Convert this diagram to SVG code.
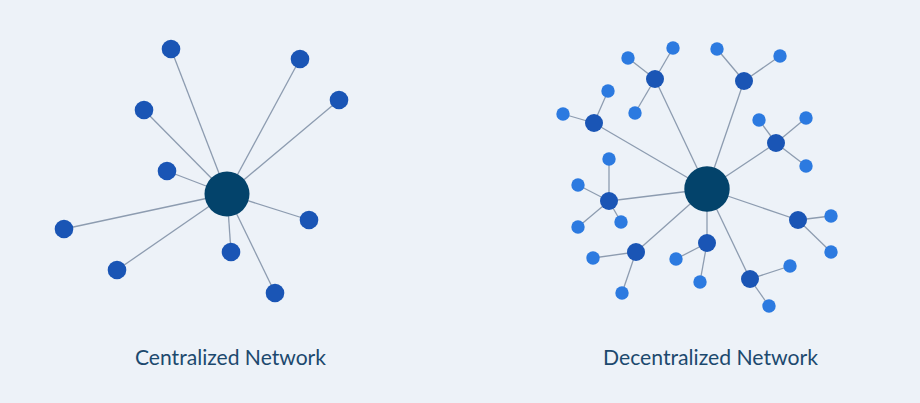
<svg xmlns="http://www.w3.org/2000/svg" width="920" height="403" viewBox="0 0 920 403">
<style>
.e{stroke:#8d9cb0;stroke-width:1.3;fill:none}
.hub{fill:#03436b}
.n{fill:#1a55b5}
.s{fill:#2c7ae0}
.t{font-family:Lato,"Open Sans",sans-serif;font-size:21px;fill:#1c496e;text-anchor:middle}
</style>
<rect width="920" height="403" fill="#edf2f8"/>
<g id="connectors">
<g id="left-edges">
<line class="e" x1="227" y1="194" x2="171" y2="49"/>
<line class="e" x1="227" y1="194" x2="300" y2="59"/>
<line class="e" x1="227" y1="194" x2="339" y2="100"/>
<line class="e" x1="227" y1="194" x2="144" y2="110"/>
<line class="e" x1="227" y1="194" x2="167" y2="171"/>
<line class="e" x1="227" y1="194" x2="64" y2="229"/>
<line class="e" x1="227" y1="194" x2="117" y2="270"/>
<line class="e" x1="227" y1="194" x2="231" y2="252"/>
<line class="e" x1="227" y1="194" x2="309" y2="220"/>
<line class="e" x1="227" y1="194" x2="275" y2="293"/>
</g>
<g id="right-edges">
<line class="e" x1="707" y1="189" x2="655" y2="79"/>
<line class="e" x1="707" y1="189" x2="744" y2="81"/>
<line class="e" x1="707" y1="189" x2="594" y2="123"/>
<line class="e" x1="707" y1="189" x2="776" y2="143"/>
<line class="e" x1="707" y1="189" x2="609" y2="201"/>
<line class="e" x1="707" y1="189" x2="798" y2="220"/>
<line class="e" x1="707" y1="189" x2="636" y2="252"/>
<line class="e" x1="707" y1="189" x2="707" y2="243"/>
<line class="e" x1="707" y1="189" x2="750" y2="279"/>
<line class="e" x1="655" y1="79" x2="628" y2="58"/>
<line class="e" x1="655" y1="79" x2="673" y2="48"/>
<line class="e" x1="655" y1="79" x2="635" y2="113"/>
<line class="e" x1="744" y1="81" x2="717" y2="49"/>
<line class="e" x1="744" y1="81" x2="780" y2="56"/>
<line class="e" x1="594" y1="123" x2="563" y2="114"/>
<line class="e" x1="594" y1="123" x2="608" y2="91"/>
<line class="e" x1="776" y1="143" x2="759" y2="120"/>
<line class="e" x1="776" y1="143" x2="806" y2="118"/>
<line class="e" x1="776" y1="143" x2="806" y2="166"/>
<line class="e" x1="609" y1="201" x2="609" y2="159"/>
<line class="e" x1="609" y1="201" x2="578" y2="185"/>
<line class="e" x1="609" y1="201" x2="578" y2="227"/>
<line class="e" x1="609" y1="201" x2="621" y2="222"/>
<line class="e" x1="798" y1="220" x2="831" y2="216"/>
<line class="e" x1="798" y1="220" x2="831" y2="252"/>
<line class="e" x1="636" y1="252" x2="593" y2="258"/>
<line class="e" x1="636" y1="252" x2="622" y2="293"/>
<line class="e" x1="707" y1="243" x2="676" y2="259"/>
<line class="e" x1="707" y1="243" x2="700" y2="282"/>
<line class="e" x1="750" y1="279" x2="790" y2="266"/>
<line class="e" x1="750" y1="279" x2="769" y2="306"/>
</g>
</g>
<g id="centralized">
<g id="c-hub"><circle class="hub" cx="227" cy="194" r="22.5"/></g>
<g id="c-n1"><circle class="n" cx="171" cy="49" r="9.3"/></g>
<g id="c-n2"><circle class="n" cx="300" cy="59" r="9.3"/></g>
<g id="c-n3"><circle class="n" cx="339" cy="100" r="9.3"/></g>
<g id="c-n4"><circle class="n" cx="144" cy="110" r="9.3"/></g>
<g id="c-n5"><circle class="n" cx="167" cy="171" r="9.3"/></g>
<g id="c-n6"><circle class="n" cx="64" cy="229" r="9.3"/></g>
<g id="c-n7"><circle class="n" cx="117" cy="270" r="9.3"/></g>
<g id="c-n8"><circle class="n" cx="231" cy="252" r="9.3"/></g>
<g id="c-n9"><circle class="n" cx="309" cy="220" r="9.3"/></g>
<g id="c-n10"><circle class="n" cx="275" cy="293" r="9.3"/></g>
</g>
<g id="decentralized">
<g id="d-hub"><circle class="hub" cx="707" cy="189" r="22.7"/></g>
<g id="d-m1"><circle class="n" cx="655" cy="79" r="9"/></g>
<g id="d-m2"><circle class="n" cx="744" cy="81" r="9"/></g>
<g id="d-m3"><circle class="n" cx="594" cy="123" r="9"/></g>
<g id="d-m4"><circle class="n" cx="776" cy="143" r="9"/></g>
<g id="d-m5"><circle class="n" cx="609" cy="201" r="9"/></g>
<g id="d-m6"><circle class="n" cx="798" cy="220" r="9"/></g>
<g id="d-m7"><circle class="n" cx="636" cy="252" r="9"/></g>
<g id="d-m8"><circle class="n" cx="707" cy="243" r="9"/></g>
<g id="d-m9"><circle class="n" cx="750" cy="279" r="9"/></g>
<g id="d-s1"><circle class="s" cx="628" cy="58" r="6.7"/></g>
<g id="d-s2"><circle class="s" cx="673" cy="48" r="6.7"/></g>
<g id="d-s3"><circle class="s" cx="635" cy="113" r="6.7"/></g>
<g id="d-s4"><circle class="s" cx="717" cy="49" r="6.7"/></g>
<g id="d-s5"><circle class="s" cx="780" cy="56" r="6.7"/></g>
<g id="d-s6"><circle class="s" cx="563" cy="114" r="6.7"/></g>
<g id="d-s7"><circle class="s" cx="608" cy="91" r="6.7"/></g>
<g id="d-s8"><circle class="s" cx="759" cy="120" r="6.7"/></g>
<g id="d-s9"><circle class="s" cx="806" cy="118" r="6.7"/></g>
<g id="d-s10"><circle class="s" cx="806" cy="166" r="6.7"/></g>
<g id="d-s11"><circle class="s" cx="609" cy="159" r="6.7"/></g>
<g id="d-s12"><circle class="s" cx="578" cy="185" r="6.7"/></g>
<g id="d-s13"><circle class="s" cx="578" cy="227" r="6.7"/></g>
<g id="d-s14"><circle class="s" cx="621" cy="222" r="6.7"/></g>
<g id="d-s15"><circle class="s" cx="831" cy="216" r="6.7"/></g>
<g id="d-s16"><circle class="s" cx="831" cy="252" r="6.7"/></g>
<g id="d-s17"><circle class="s" cx="593" cy="258" r="6.7"/></g>
<g id="d-s18"><circle class="s" cx="622" cy="293" r="6.7"/></g>
<g id="d-s19"><circle class="s" cx="676" cy="259" r="6.7"/></g>
<g id="d-s20"><circle class="s" cx="700" cy="282" r="6.7"/></g>
<g id="d-s21"><circle class="s" cx="790" cy="266" r="6.7"/></g>
<g id="d-s22"><circle class="s" cx="769" cy="306" r="6.7"/></g>
</g>
<text class="t" x="230.5" y="365" textLength="191" lengthAdjust="spacingAndGlyphs">Centralized Network</text>
<text class="t" x="710.5" y="365" textLength="215" lengthAdjust="spacingAndGlyphs">Decentralized Network</text>
</svg>
